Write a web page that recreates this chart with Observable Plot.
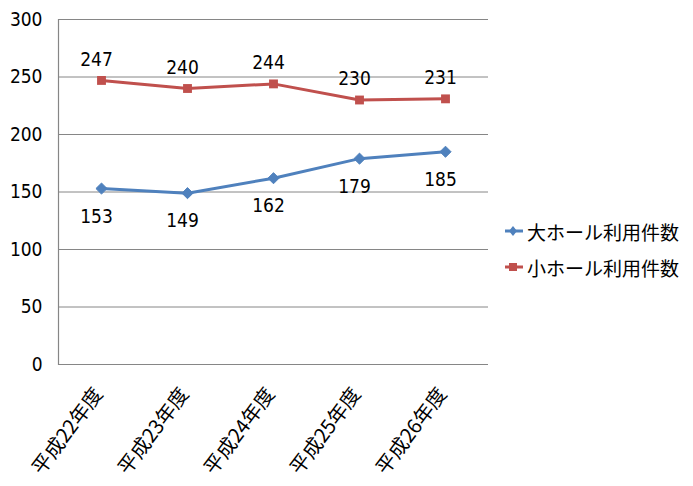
<!DOCTYPE html>
<html>
<head>
<meta charset="utf-8">
<script src="https://cdn.jsdelivr.net/npm/d3@7"></script>
<script src="https://cdn.jsdelivr.net/npm/@observablehq/plot@0.6"></script>
<style>
  body { margin: 0; background: #fff; }
  #wrap { position: relative; width: 693px; height: 486px; }
  #legend { position: absolute; left: 504px; top: 213px; font-family: "Noto Sans CJK JP", sans-serif; font-size: 19px; color: #000; }
  #legend div { display: flex; align-items: center; height: 36px; }
  #legend svg { margin-right: 3px; }
</style>
</head>
<body>
<div id="wrap"><div id="chart"></div><div id="legend"></div></div>
<script>
const categories = ["平成22年度", "平成23年度", "平成24年度", "平成25年度", "平成26年度"];
const largeHall = [153, 149, 162, 179, 185];
const smallHall = [247, 240, 244, 230, 231];
const seriesNames = ["大ホール利用件数", "小ホール利用件数"];
const seriesColors = ["#4F81BD", "#C0504D"];
const yTicks = [0, 50, 100, 150, 200, 250, 300];

const large = categories.map((c, i) => ({cat: c, v: largeHall[i]}));
const small = categories.map((c, i) => ({cat: c, v: smallHall[i]}));

const numFont = "'Liberation Sans Narrow', 'DejaVu Sans Condensed', sans-serif";

const chart = Plot.plot({
  width: 693,
  height: 486,
  marginLeft: 58,
  marginRight: 205,
  marginTop: 19,
  marginBottom: 122,
  style: {fontFamily: numFont, fontSize: "19px", color: "#000", background: "#fff"},
  x: {type: "band", domain: categories, padding: 0, label: null},
  y: {domain: [0, 300], ticks: yTicks, label: null},
  marks: [
    Plot.gridY(yTicks.filter(d => d > 0), {stroke: "#868686", strokeOpacity: 1, strokeWidth: 1}),
    Plot.ruleY([0], {stroke: "#868686", strokeWidth: 1.2}),
    Plot.frame({anchor: "left", stroke: "#868686", strokeWidth: 1.2}),
    Plot.axisY({ticks: yTicks, tickSize: 0, tickPadding: 16, fontSize: 19, fontFamily: numFont}),
    Plot.axisX({tickSize: 0, tickRotate: -53, tickPadding: 26, fontSize: 20, fontFamily: "'Noto Sans CJK JP', sans-serif", dx: -3}),
    Plot.line(large, {x: "cat", y: "v", stroke: seriesColors[0], strokeWidth: 3}),
    Plot.line(small, {x: "cat", y: "v", stroke: seriesColors[1], strokeWidth: 3}),
    Plot.dot(large, {x: "cat", y: "v", symbol: "diamond2", r: 5, fill: seriesColors[0], stroke: seriesColors[0], strokeWidth: 1}),
    Plot.dot(small, {x: "cat", y: "v", symbol: "square", r: 5, fill: seriesColors[1]}),
    Plot.text(large, {x: "cat", y: "v", text: d => String(d.v), dy: 28, dx: -5, fontSize: 19, fill: "#000"}),
    Plot.text(small, {x: "cat", y: "v", text: d => String(d.v), dy: -21, dx: -5, fontSize: 19, fill: "#000"})
  ]
});
document.getElementById("chart").append(chart);

const legend = document.getElementById("legend");
seriesNames.forEach((name, i) => {
  const row = document.createElement("div");
  const sym = i === 0
    ? `<path d="M9,4 L13,9 L9,14 L5,9 Z" fill="${seriesColors[i]}"/>`
    : `<rect x="5" y="5" width="8" height="8" fill="${seriesColors[i]}"/>`;
  row.innerHTML = `<svg width="20" height="18"><line x1="1" y1="9" x2="19" y2="9" stroke="${seriesColors[i]}" stroke-width="3"/>${sym}</svg><span>${name}</span>`;
  legend.append(row);
});
</script>
</body>
</html>
